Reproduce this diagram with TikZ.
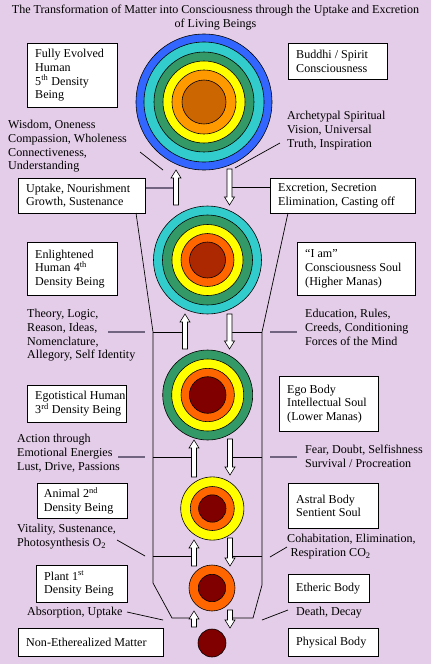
\documentclass[tikz,border=0pt]{standalone}
\usepackage{fontspec}
\setmainfont{Liberation Serif}
\usepackage{tikz}
\usetikzlibrary{positioning}
\usepackage{xcolor}

\definecolor{bgpurple}{RGB}{228,205,232}
\definecolor{ringblue}{RGB}{51,102,255}
\definecolor{ringcyan}{RGB}{51,204,204}
\definecolor{ringgreen}{RGB}{51,153,102}
\definecolor{ringyellow}{RGB}{255,255,0}
\definecolor{ringorange}{RGB}{255,153,0}
\definecolor{ringred}{RGB}{255,102,0}
\definecolor{coreochre}{RGB}{204,102,0}
\definecolor{corerust}{RGB}{172,40,0}
\definecolor{coremaroon}{RGB}{128,0,0}
\definecolor{leadgray}{RGB}{112,100,128}

\newcommand{\pxu}{0.03cm}
% hollow block arrows: x, tail y, tip y
\newcommand{\uparr}[3]{\draw[blk] (#1-2.5,#2) -- (#1-2.5,#3+8) -- (#1-5,#3+8) -- (#1,#3)
  -- (#1+5,#3+8) -- (#1+2.5,#3+8) -- (#1+2.5,#2) -- cycle;}
\newcommand{\downarr}[3]{\draw[blk] (#1-2.5,#2) -- (#1-2.5,#3-8) -- (#1-5,#3-8) -- (#1,#3)
  -- (#1+5,#3-8) -- (#1+2.5,#3-8) -- (#1+2.5,#2) -- cycle;}

\begin{document}
\begin{tikzpicture}[
  x=\pxu, y=-\pxu,
  font=\fontsize{10.3}{11.7}\selectfont,
  box/.style 2 args = {draw=black, fill=white, line width=0.6pt, anchor=north west,
                       inner sep=0pt, minimum width=#1*\pxu, minimum height=#2*\pxu},
  txt/.style   = {align=left, inner sep=0pt},
  lbl/.style   = {align=left, inner sep=0pt, anchor=north west},
  ring/.style  = {circle, draw=black, line width=0.5pt, inner sep=0pt},
  blk/.style   = {draw=black, fill=white, line width=0.5pt},
  lead/.style  = {draw=leadgray, line width=1.3pt},
  ln/.style    = {draw=black, line width=0.6pt},
]
\fill[bgpurple] (0,0) rectangle (431,664);
\useasboundingbox (0,0) rectangle (431,664);

\node[align=center, inner sep=0pt, anchor=north] (title) at (215.5,5)
  {The Transformation of Matter into Consciousness through the Uptake and Excretion\\of Living Beings};

% ---- density circles -------------------------------------------------------
\foreach \r/\c [count=\i] in {68/ringblue,60/ringcyan,50/ringgreen,41/ringyellow,32/ringorange,22/coreochre}
  \node[ring, fill=\c, minimum size=2*\r*\pxu] (s5-\i) at (204,102) {};
\foreach \r/\c [count=\i] in {54/ringcyan,45/ringgreen,35.5/ringyellow,26.5/ringred,18/corerust}
  \node[ring, fill=\c, minimum size=2*\r*\pxu] (s4-\i) at (207.5,260) {};
\foreach \r/\c [count=\i] in {45/ringgreen,36/ringyellow,26.7/ringred,18.3/coremaroon}
  \node[ring, fill=\c, minimum size=2*\r*\pxu] (s3-\i) at (207.7,395) {};
\foreach \r/\c [count=\i] in {31.6/ringyellow,22/ringred,13.7/coremaroon}
  \node[ring, fill=\c, minimum size=2*\r*\pxu] (s2-\i) at (212.3,508.5) {};
\foreach \r/\c [count=\i] in {23/ringred,13.7/coremaroon}
  \node[ring, fill=\c, minimum size=2*\r*\pxu] (s1-\i) at (212,588) {};
\node[ring, fill=coremaroon, minimum size=28*\pxu] (s0) at (212,643) {};

% ---- left boxes ------------------------------------------------------------
\node[box={90}{64}]  (b5)      at (27,43)  {};
\node[box={127}{35}] (bup)     at (18,178) {};
\node[box={90}{53}]  (b4)      at (27,242) {};
\node[box={99}{37}]  (b3)      at (27,385) {};
\node[box={90}{35}]  (b2)      at (37,483) {};
\node[box={91}{37}]  (b1)      at (36,565) {};
\node[box={145}{28}] (bmatter) at (18,628) {};

\node[txt, right=0.24cm of b5.west]      (t5)      {Fully Evolved\\Human\\5\textsuperscript{th} Density\\Being};
\node[txt, right=0.24cm of bup.west]     (tup)     {Uptake, Nourishment\\Growth, Sustenance};
\node[txt, right=0.24cm of b4.west]      (t4)      {Enlightened\\Human 4\textsuperscript{th}\\Density Being};
\node[txt, right=0.24cm of b3.west]      (t3)      {Egotistical Human\\3\textsuperscript{rd} Density Being};
\node[txt, right=0.2cm of b2.west]       (t2)      {Animal 2\textsuperscript{nd}\\Density Being};
\node[txt, right=0.24cm of b1.west]      (t1)      {Plant 1\textsuperscript{st}\\Density Being};
\node[txt, right=0.24cm of bmatter.west] (tmatter) {Non-Etherealized Matter};

% ---- right boxes -----------------------------------------------------------
\node[box={99}{36}]  (bbuddhi) at (288,43)  {};
\node[box={145}{35}] (bex)     at (270,178) {};
\node[box={118}{53}] (biam)    at (297,242) {};
\node[box={99}{55}]  (bego)    at (279,376) {};
\node[box={90}{45}]  (bastral) at (288,483) {};
\node[box={81}{28}]  (bether)  at (288,574) {};
\node[box={90}{28}]  (bphys)   at (288,628) {};

\node[txt, right=0.24cm of bbuddhi.west] (tbuddhi) {Buddhi / Spirit\\Consciousness};
\node[txt, right=0.24cm of bex.west]     (tex)     {Excretion, Secretion\\Elimination, Casting off};
\node[txt, right=0.24cm of biam.west]    (tiam)    {“I am”\\Consciousness Soul\\(Higher Manas)};
\node[txt, right=0.24cm of bego.west]    (tego)    {Ego Body\\Intellectual Soul\\(Lower Manas)};
\node[txt, right=0.24cm of bastral.west] (tastral) {Astral Body\\Sentient Soul};
\node[txt, right=0.24cm of bether.west]  (tether)  {Etheric Body};
\node[txt, right=0.24cm of bphys.west]   (tphys)   {Physical Body};

% ---- free labels -----------------------------------------------------------
\node[lbl] (lwis)   at (8,120)   {Wisdom, Oneness\\Compassion, Wholeness\\Connectiveness,\\Understanding};
\node[lbl] (larch)  at (287,111) {Archetypal Spiritual\\Vision, Universal\\Truth, Inspiration};
\node[lbl] (lthe)   at (27,309)  {Theory, Logic,\\Reason, Ideas,\\Nomenclature,\\Allegory, Self Identity};
\node[lbl] (ledu)   at (305,309) {Education, Rules,\\Creeds, Conditioning\\Forces of the Mind};
\node[lbl] (lact)   at (17,434)  {Action through\\Emotional Energies\\Lust, Drive, Passions};
\node[lbl] (lfear)  at (305,445) {Fear, Doubt, Selfishness\\Survival / Procreation};
\node[lbl] (lvit)   at (17,524)  {Vitality, Sustenance,\\Photosynthesis O\textsubscript{2}};
\node[lbl] (lcoh)   at (287,534) {Cohabitation, Elimination,\\\hspace{1mm}Respiration CO\textsubscript{2}};
\node[lbl] (labs)   at (27,607)  {Absorption, Uptake};
\node[lbl] (ldeath) at (296,607) {Death, Decay};

% ---- funnel ----------------------------------------------------------------
\draw[ln] (136,213) -- (153,332) -- (153,583) -- (172,618) -- (191,618);
\draw[ln] (288,213) -- (262,332) -- (262,585) -- (253,618) -- (232,618);
\foreach \y/\xl/\xr in {332/182/232, 457/191/232, 556/191/232}{
  \draw[ln] (153,\y) -- (\xl,\y);
  \draw[ln] (\xr,\y) -- (262,\y);
}
\draw[ln] (232,187) -- (bex.west |- 0,187);

% ---- leaders ---------------------------------------------------------------
\draw[lead] (bup.east |- 0,188) -- (173,188);
\draw[lead] (108,332) -- (145,332);
\draw[lead] (270,332) -- (297,332);
\draw[lead] (118,457) -- (145,457);
\draw[lead] (270,457) -- (297,457);

\draw[ln] (140,152) -- (163,170);
\draw[ln] (235,168) -- (280,143);
\draw[ln] (117,540) -- (145,556);
\draw[ln] (270,557) -- (287,547);
\draw[ln] (127,612) -- (163,620);
\draw[ln] (262,620) -- (288,610);

% ---- uptake / excretion arrows ---------------------------------------------
\uparr{176}{205}{170}   \downarr{229.5}{169}{205}
\uparr{185}{349}{314}   \downarr{229.5}{314}{349}
\uparr{194}{477}{440}   \downarr{230}{439}{475}
\uparr{194}{566}{540}   \downarr{230}{538}{566}
\uparr{194}{627}{611}   \downarr{230}{610}{628}

\end{tikzpicture}
\end{document}
